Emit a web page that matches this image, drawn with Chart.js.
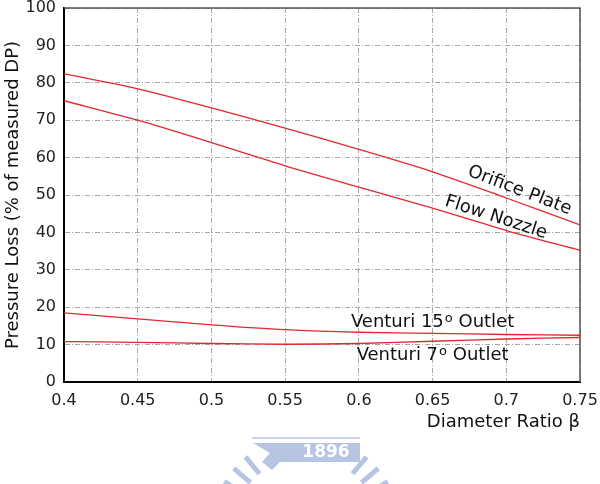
<!DOCTYPE html>
<html>
<head>
<meta charset="utf-8">
<script src="https://cdn.jsdelivr.net/npm/chart.js@4/dist/chart.umd.min.js"></script>
<style>
  html, body { margin: 0; padding: 0; background: #fff; }
  #wrap { width: 600px; height: 484px; }
</style>
</head>
<body>
<div id="wrap"><canvas id="myChart" width="600" height="484"></canvas></div>
<script>
// values
var beta = [0.4, 0.45, 0.5, 0.55, 0.6, 0.65, 0.7, 0.75];
var orificePlate = [82.4, 78.4, 73.3, 67.9, 62.2, 56.2, 49.2, 42.0];
var flowNozzle = [75.2, 70.0, 64.0, 57.8, 52.1, 46.5, 40.5, 35.2];
var venturi15 = [18.5, 16.9, 15.3, 14.0, 13.3, 13.0, 12.7, 12.5];
var venturi7 = [10.8, 10.6, 10.3, 10.1, 10.3, 10.9, 11.5, 11.9];

var xTicks = [0.4, 0.45, 0.5, 0.55, 0.6, 0.65, 0.7, 0.75];
var yTicks = [0, 10, 20, 30, 40, 50, 60, 70, 80, 90, 100];

// curve labels: text, anchor in data units, rotation in degrees
var curveLabels = [
  { text: "Orifice Plate", x: 0.709, y: 51.2, angle: 21 },
  { text: "Flow Nozzle", x: 0.693, y: 44.0, angle: 18 },
  { text: "Venturi 15", sup: "o", after: " Outlet", x: 0.65, y: 16.0, angle: 0 },
  { text: "Venturi 7", sup: "o", after: " Outlet", x: 0.65, y: 7.0, angle: 0 }
];

var RED = "#e3282c";
var FONT = "'DejaVu Sans', sans-serif";

function pts(ys) {
  return beta.map(function (b, i) { return { x: b, y: ys[i] }; });
}

function line(label, ys) {
  return {
    label: label,
    data: pts(ys),
    borderColor: RED,
    borderWidth: 1.3,
    pointRadius: 0,
    tension: 0.3,
    fill: false
  };
}

var frame = {
  id: "frame",
  afterDraw: function (chart) {
    var a = chart.chartArea, ctx = chart.ctx;
    ctx.save();
    ctx.strokeStyle = "#555";
    ctx.lineWidth = 1.5;
    ctx.beginPath();
    ctx.moveTo(a.left, a.top);
    ctx.lineTo(a.right, a.top);
    ctx.lineTo(a.right, a.bottom);
    ctx.stroke();
    ctx.restore();
  }
};

var labels = {
  id: "curveLabels",
  afterDatasetsDraw: function (chart) {
    var ctx = chart.ctx, xs = chart.scales.x, ys = chart.scales.y;
    ctx.save();
    ctx.fillStyle = "#111";
    ctx.textBaseline = "middle";
    curveLabels.forEach(function (l) {
      var px = xs.getPixelForValue(l.x), py = ys.getPixelForValue(l.y);
      ctx.save();
      ctx.translate(px, py);
      ctx.rotate(l.angle * Math.PI / 180);
      ctx.font = "18px " + FONT;
      if (!l.sup) {
        ctx.textAlign = "center";
        ctx.fillText(l.text, 0, 0);
      } else {
        var w1 = ctx.measureText(l.text).width;
        var w3 = ctx.measureText(l.after).width;
        ctx.font = "13px " + FONT;
        var w2 = ctx.measureText(l.sup).width + 1;
        var start = -(w1 + w2 + w3) / 2;
        ctx.textAlign = "left";
        ctx.font = "18px " + FONT;
        ctx.fillText(l.text, start, 0);
        ctx.font = "13px " + FONT;
        ctx.fillText(l.sup, start + w1 + 1, -4);
        ctx.font = "18px " + FONT;
        ctx.fillText(l.after, start + w1 + w2, 0);
      }
      ctx.restore();
    });
    ctx.restore();
  }
};

// faint university seal below the plot
var seal = {
  id: "seal",
  afterDraw: function (chart) {
    var ctx = chart.ctx;
    var cx = 306, cy = 530, r = 95;
    ctx.save();
    ctx.strokeStyle = "#b7c4e4";
    ctx.fillStyle = "#b7c4e4";
    ctx.lineWidth = 5;
    for (var i = 0; i < 17; i++) {
      var a = Math.PI * (1.06 + i * 0.055);
      if (i > 4 && i < 12) continue;
      ctx.beginPath();
      ctx.moveTo(cx + Math.cos(a) * (r - 22), cy + Math.sin(a) * (r - 22));
      ctx.lineTo(cx + Math.cos(a) * r, cy + Math.sin(a) * r);
      ctx.stroke();
    }
    ctx.lineWidth = 1.5;
    ctx.beginPath();
    ctx.moveTo(252, 438);
    ctx.lineTo(360, 438);
    ctx.stroke();
    ctx.beginPath();
    ctx.moveTo(253, 443);
    ctx.lineTo(360, 443);
    ctx.lineTo(360, 462);
    ctx.lineTo(280, 462);
    ctx.lineTo(272, 470);
    ctx.lineTo(262, 462);
    ctx.lineTo(270, 453);
    ctx.closePath();
    ctx.fill();
    ctx.fillStyle = "#fff";
    ctx.font = "bold 17px " + FONT;
    ctx.textAlign = "center";
    ctx.textBaseline = "middle";
    ctx.fillText("1896", 326, 453);
    ctx.restore();
  }
};

var ctx = document.getElementById("myChart").getContext("2d");
var myChart = new Chart(ctx, {
  type: "line",
  data: {
    datasets: [
      line("Orifice Plate", orificePlate),
      line("Flow Nozzle", flowNozzle),
      line("Venturi 15o Outlet", venturi15),
      line("Venturi 7o Outlet", venturi7)
    ]
  },
  plugins: [frame, labels, seal],
  options: {
    responsive: false,
    animation: false,
    layout: { padding: { top: 8, right: 20, left: 0, bottom: 0 } },
    plugins: { legend: { display: false }, tooltip: { enabled: false } },
    scales: {
      x: {
        type: "linear",
        min: 0.4,
        max: 0.75,
        afterBuildTicks: function (s) { s.ticks = xTicks.map(function (v) { return { value: v }; }); },
        afterFit: function (s) { s.height = 102; s.paddingLeft = 0; s.paddingRight = 0; },
        ticks: {
          font: { family: FONT, size: 16 },
          color: "#222",
          padding: 9,
          maxRotation: 0,
          callback: function (v) { return String(v); }
        },
        grid: { color: "#a8a8a8", lineWidth: 1, drawTicks: false },
        border: { display: true, color: "#000", width: 2, dash: [5, 2, 1, 2] },
        title: {
          display: true,
          text: "Diameter Ratio \u03b2",
          align: "end",
          color: "#111",
          font: { family: FONT, size: 18 },
          padding: { top: 51, bottom: 51 }
        }
      },
      y: {
        min: 0,
        max: 100,
        afterBuildTicks: function (s) { s.ticks = yTicks.map(function (v) { return { value: v }; }); },
        afterFit: function (s) { s.width = 64; s.paddingTop = 0; s.paddingBottom = 0; },
        ticks: {
          font: { family: FONT, size: 16 },
          color: "#222",
          padding: 8
        },
        grid: { color: "#a8a8a8", lineWidth: 1, drawTicks: false },
        border: { display: true, color: "#000", width: 2, dash: [5, 2, 1, 2] },
        title: {
          display: true,
          text: "Pressure Loss (% of measured DP)",
          color: "#111",
          font: { family: FONT, size: 18 },
          padding: { top: 3, bottom: 3 }
        }
      }
    }
  }
});
</script>
</body>
</html>
